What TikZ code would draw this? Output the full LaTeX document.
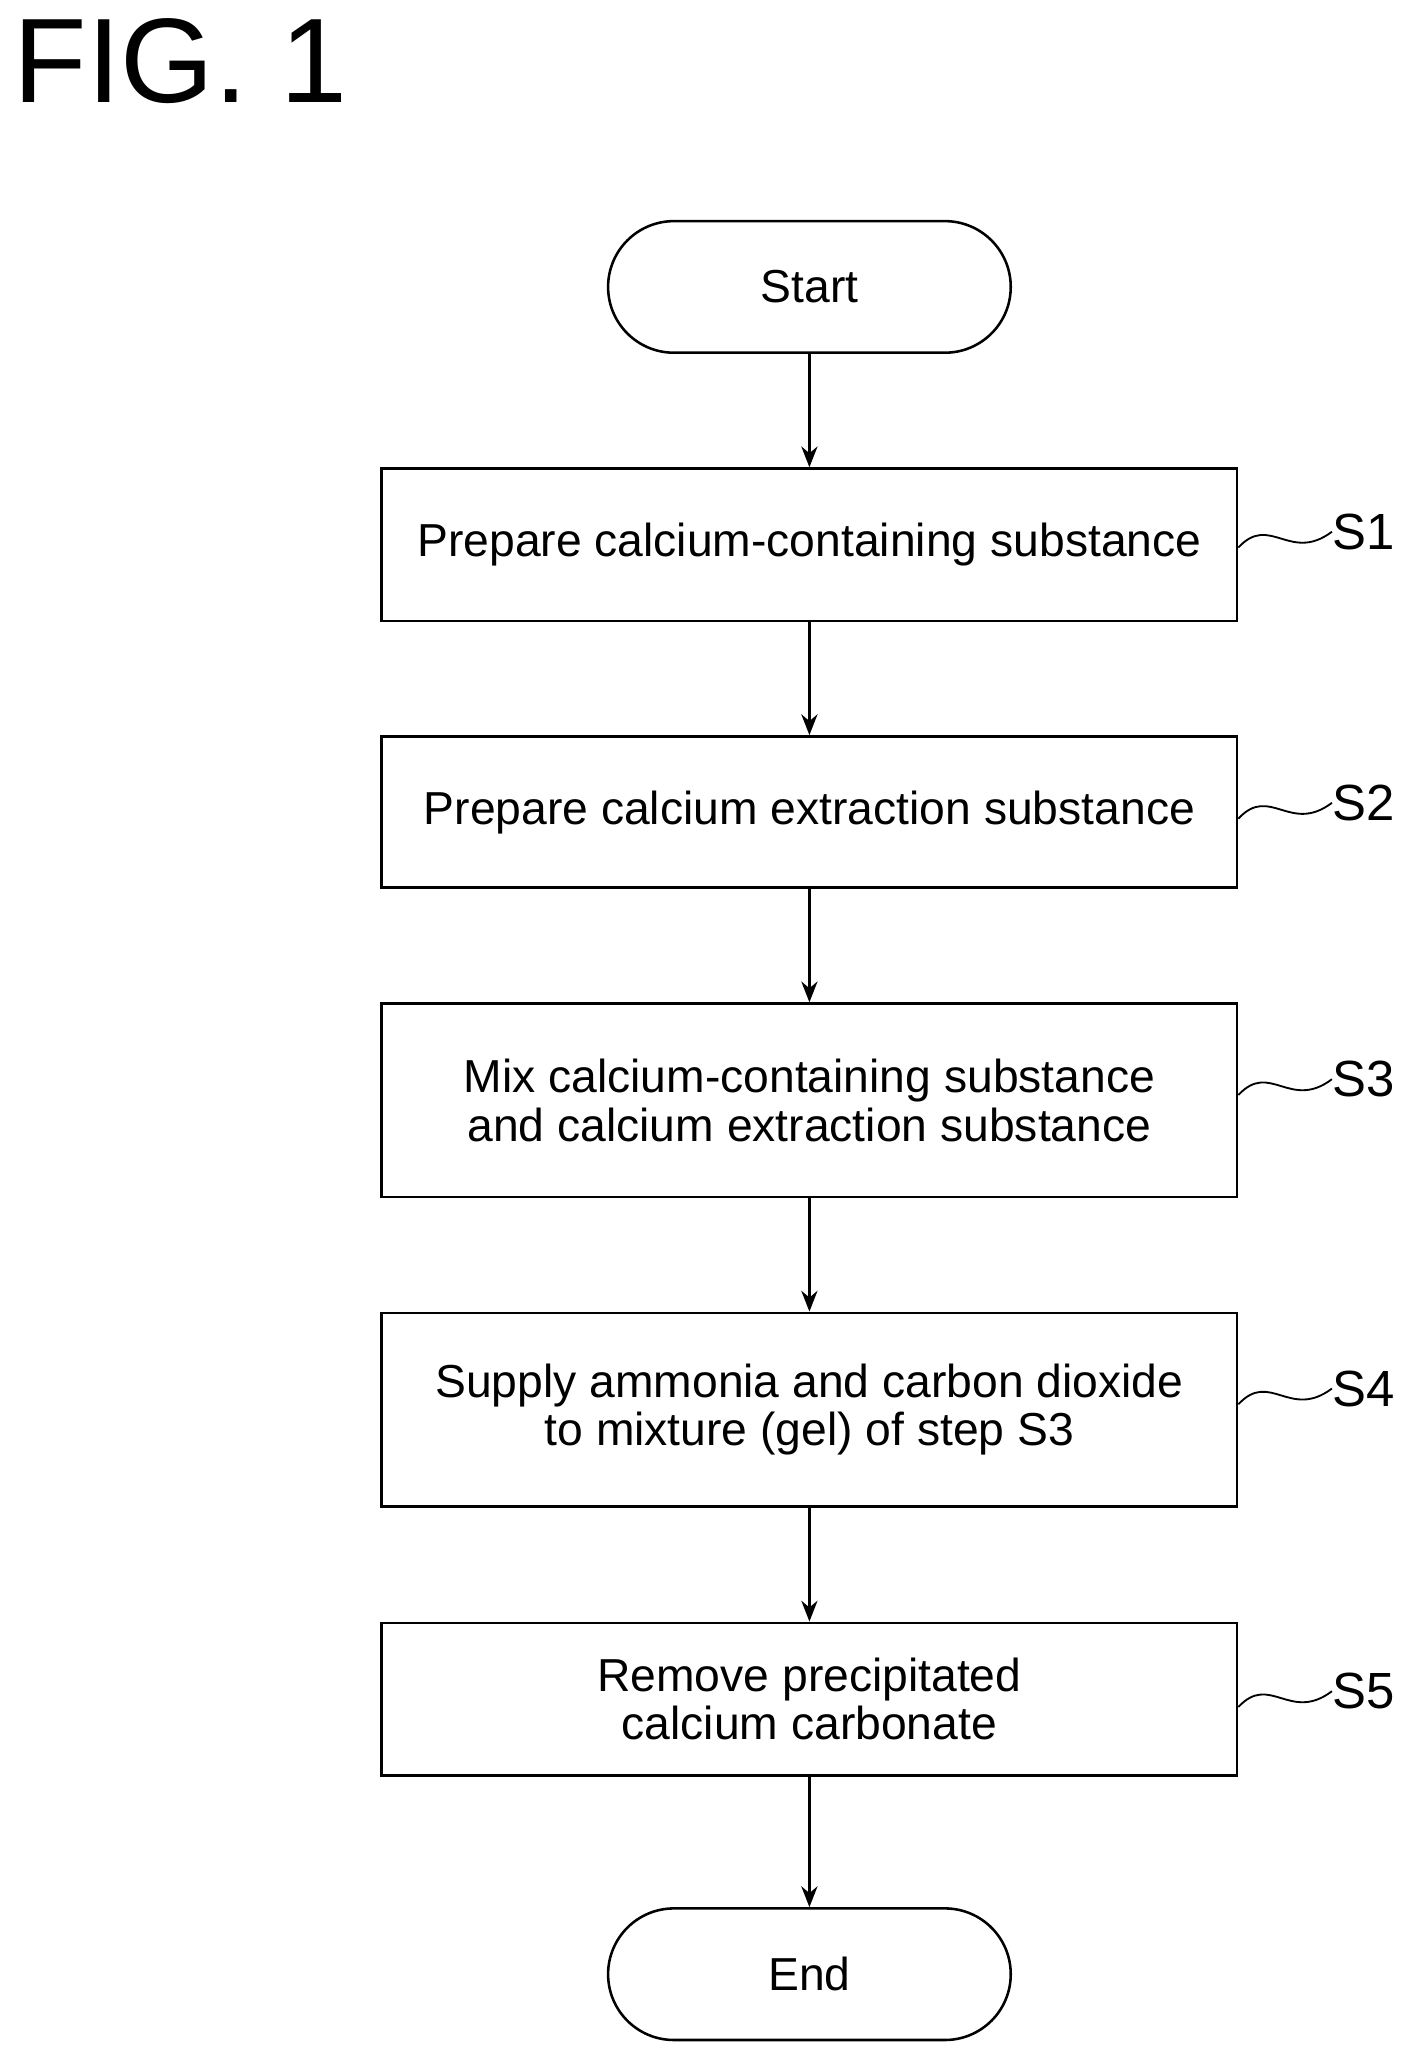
\documentclass[tikz,border=0pt]{standalone}
\usepackage{fontspec}
\setmainfont{Liberation Sans}
\usetikzlibrary{positioning,arrows.meta}
\tikzset{
  procbox/.style={draw,line width=1.1pt,minimum width=13cm,align=center,font=\fontsize{20}{21}\selectfont,inner sep=2pt},
  term/.style={draw,line width=1.1pt,minimum width=6.12cm,minimum height=2cm,rounded corners=1cm,font=\fontsize{20}{22}\selectfont},
  flow/.style={-{Stealth[length=9pt,width=7pt]},line width=1.1pt},
  lbl/.style={anchor=west,font=\fontsize{22}{24}\selectfont,inner sep=0pt}
}
\begin{document}
\begin{tikzpicture}[x=0.02cm,y=-0.02cm]
	\useasboundingbox (0,0) rectangle (1080,1569);
	% Titel
	\node[anchor=north west,inner sep=0pt,font=\fontsize{52}{56}\selectfont] (fig) at (10,14) {FIG. 1};
	% Knoten
	\node[term] (start) at (615,218) {Start};
	\node[procbox,minimum height=2.32cm] (s1) at (615,414) {Prepare calcium-containing substance};
	\node[procbox,minimum height=2.3cm] (s2) at (615,617) {Prepare calcium extraction substance};
	\node[procbox,minimum height=2.94cm] (s3) at (615,836) {Mix calcium-containing substance\\and calcium extraction substance};
	\node[procbox,minimum height=2.94cm] (s4) at (615,1071) {Supply ammonia and carbon dioxide\\to mixture (gel) of step S3};
	\node[procbox,minimum height=2.32cm] (s5) at (615,1291) {Remove precipitated\\calcium carbonate};
	\node[term] (end) at (615,1500) {End};
	% Pfeile
	\draw[flow] (start) -- (s1);
	\draw[flow] (s1) -- (s2);
	\draw[flow] (s2) -- (s3);
	\draw[flow] (s3) -- (s4);
	\draw[flow] (s4) -- (s5);
	\draw[flow] (s5) -- (end);
	% Schrittnummern
	\foreach \n/\y in {1/410,2/616,3/826,4/1061,5/1291}{
	  \node[lbl] (l\n) at (1012,\y-6) {S\n};
	  \draw[line width=0.8pt] (s\n.east |- 0,\y+6) .. controls (965,\y-20) and (980,\y+18) .. (l\n.west);
	}
\end{tikzpicture}
\end{document}
